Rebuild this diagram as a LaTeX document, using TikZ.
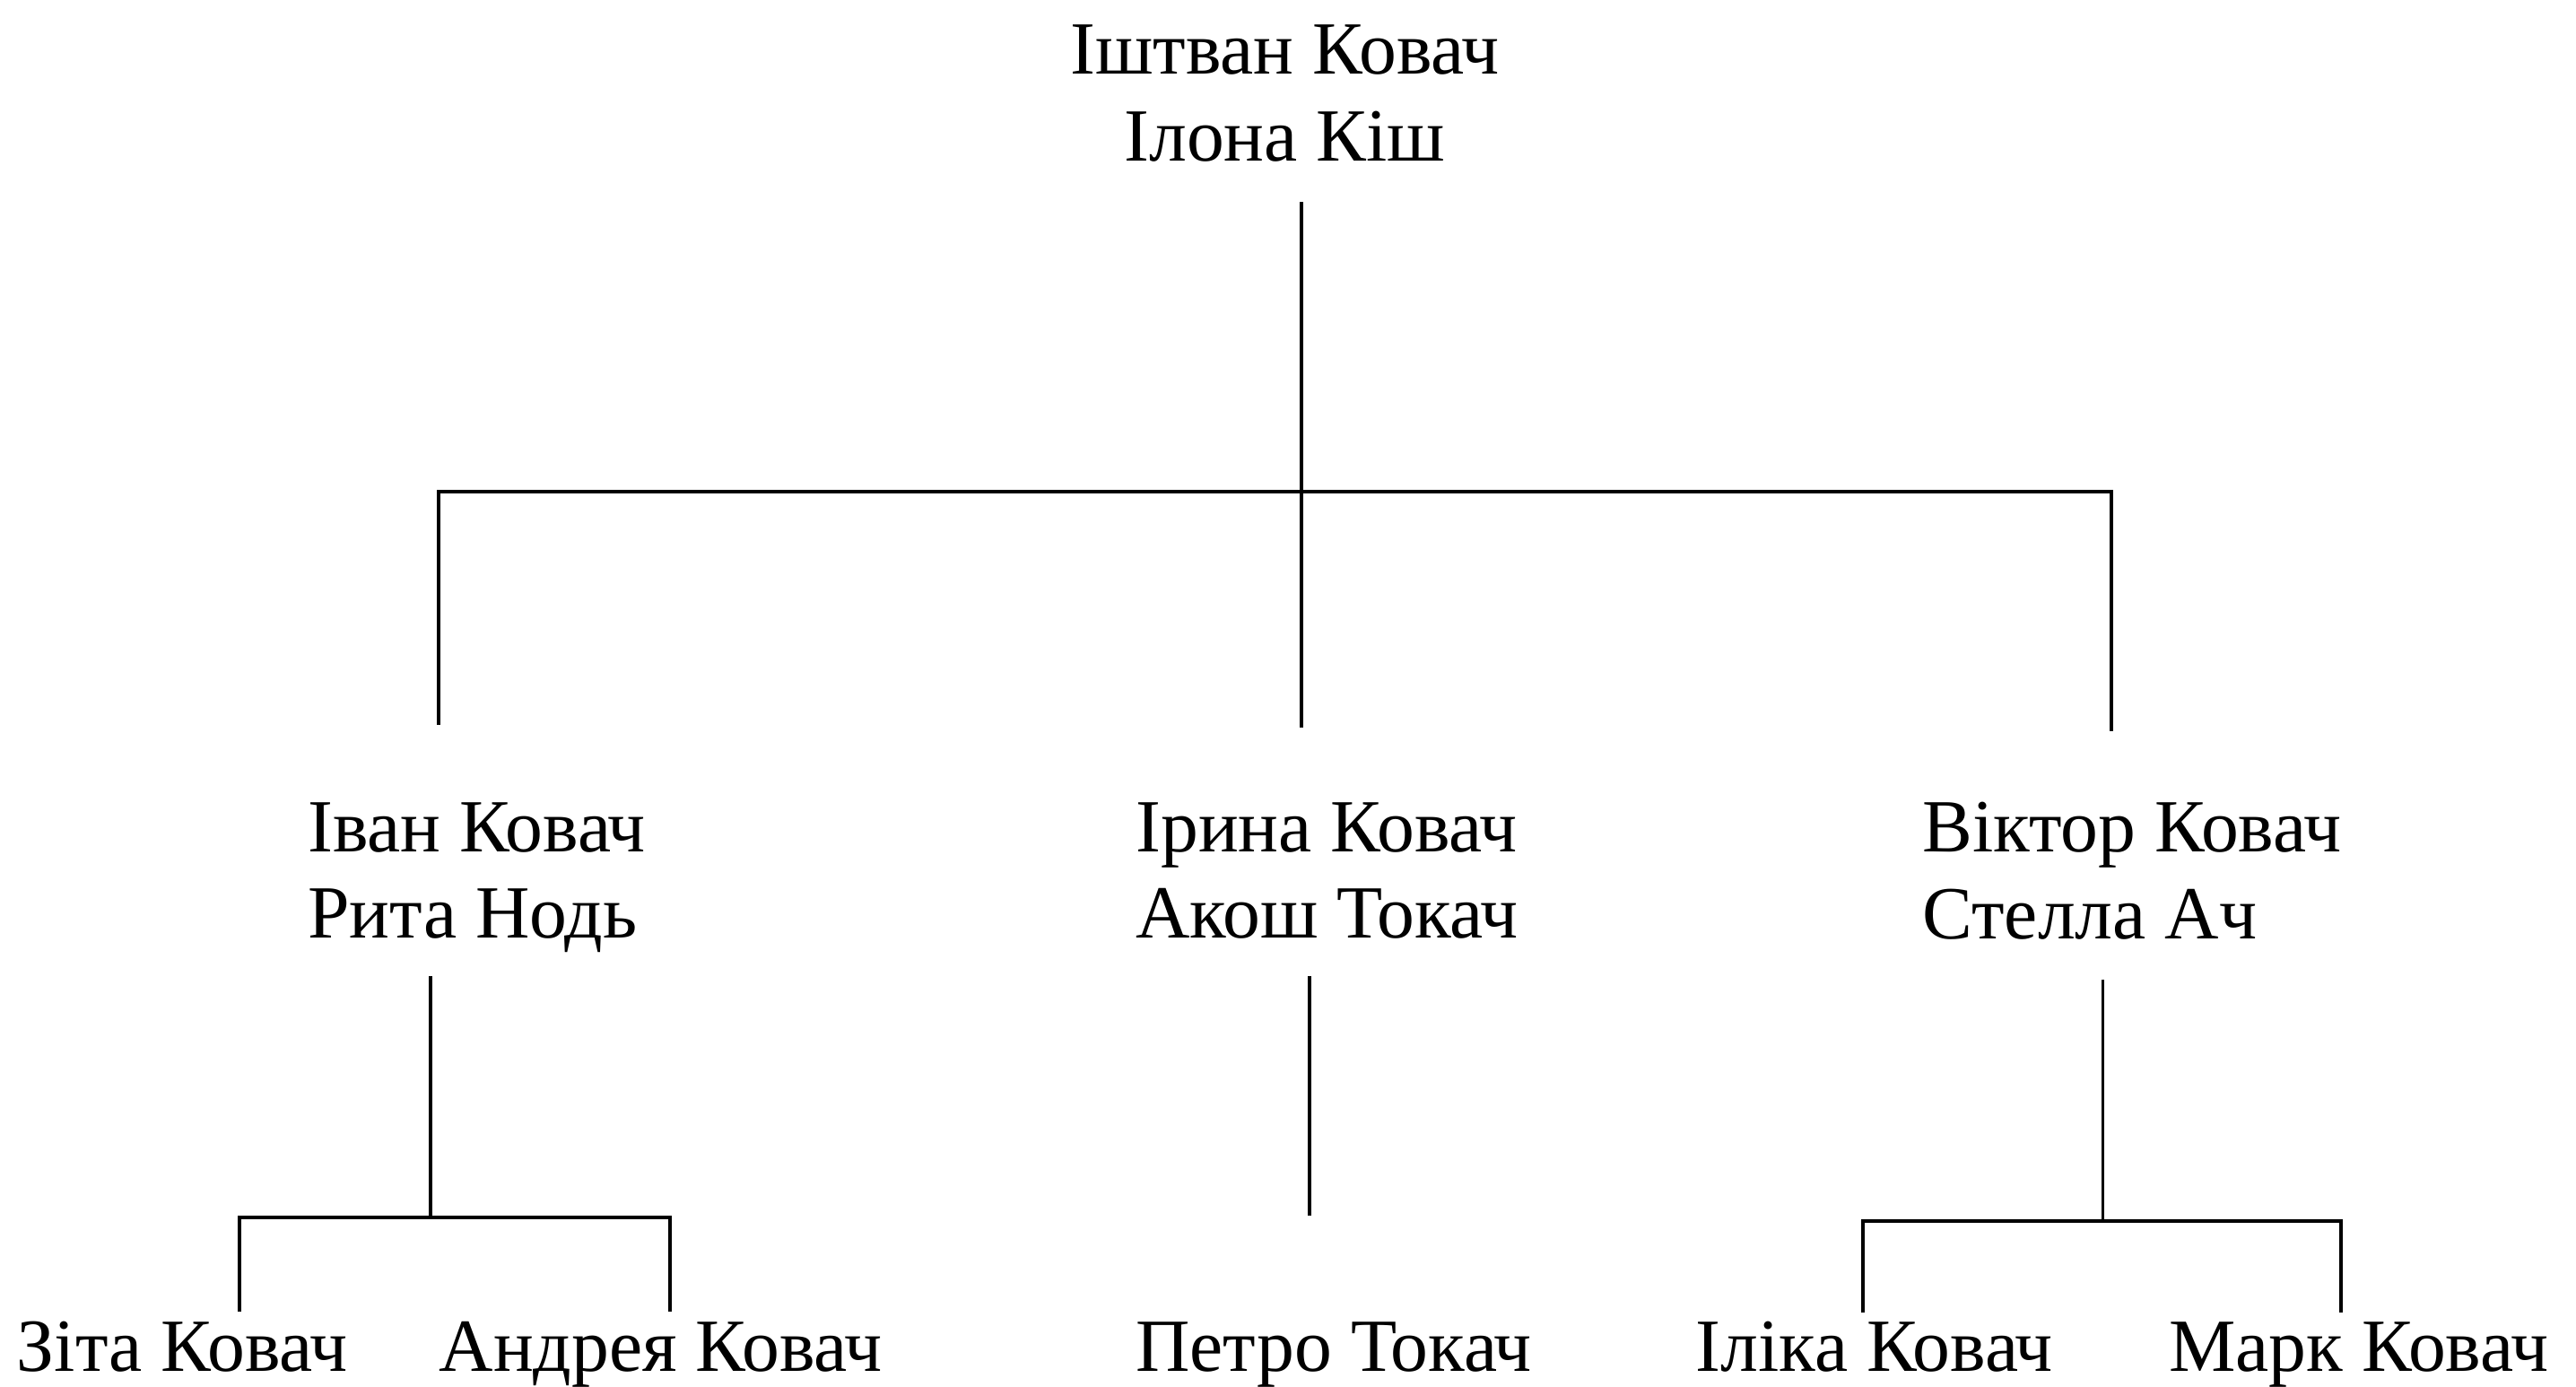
\documentclass[tikz,border=0pt]{standalone}
\usepackage{fontspec}
\setmainfont{Liberation Serif}
\usetikzlibrary{positioning}
\begin{document}
\begin{tikzpicture}[x=0.02cm, y=-0.02cm,
  person/.style={inner sep=0pt, anchor=north west, align=left,
                 font=\fontsize{26}{30}\selectfont},
  link/.style={line width=1.2pt}
]
\useasboundingbox (0,0) rectangle (1568,844);
%% ---- grandparents ----
\node[person, anchor=north, align=center] (gp) at (782,15)
  {Іштван Ковач\\Ілона Кіш};
%% ---- children with spouses ----
\node[person] (ivan)   at (187,488)  {Іван Ковач\\Рита Нодь};
\node[person] (iryna)  at (691,488)  {Ірина Ковач\\Акош Токач};
\node[person] (viktor) at (1170,488) {Віктор Ковач\\Стелла Ач};
%% ---- grandchildren ----
\node[person] (zita)   at (10,804)   {Зіта Ковач};
\node[person] (andrea) at (267,804)  {Андрея Ковач};
\node[person] (petro)  at (691,804)  {Петро Токач};
\node[person] (ilika)  at (1032,804) {Іліка Ковач};
\node[person] (mark)   at (1320,804) {Марк Ковач};

%% ---- first generation links ----
\coordinate (gpfoot) at (792,123);
\coordinate (ivanhead)   at (267,441);
\coordinate (irynahead)  at (792,443);
\coordinate (viktorhead) at (1285,445);
\draw[link] (gpfoot) -- (irynahead);
\draw[link] (ivanhead) |- (gpfoot |- 0,299) -| (viktorhead);

%% ---- second generation links ----
\coordinate (ivanfoot)   at (262,594);
\coordinate (zitahead)   at (146,798);
\coordinate (andreahead) at (408,798);
\draw[link] (ivanfoot) -- (ivanfoot |- 0,741);
\draw[link] (zitahead) |- (ivanfoot |- 0,741) -| (andreahead);

\coordinate (irynafoot) at (797,594);
\coordinate (petrohead) at (797,740);
\draw[link] (irynafoot) -- (petrohead);

\coordinate (viktorfoot) at (1280,596);
\coordinate (ilikahead)  at (1134,799);
\coordinate (markhead)   at (1425,799);
\draw[link] (viktorfoot) -- (viktorfoot |- 0,743);
\draw[link] (ilikahead) |- (viktorfoot |- 0,743) -| (markhead);

\end{tikzpicture}
\end{document}
